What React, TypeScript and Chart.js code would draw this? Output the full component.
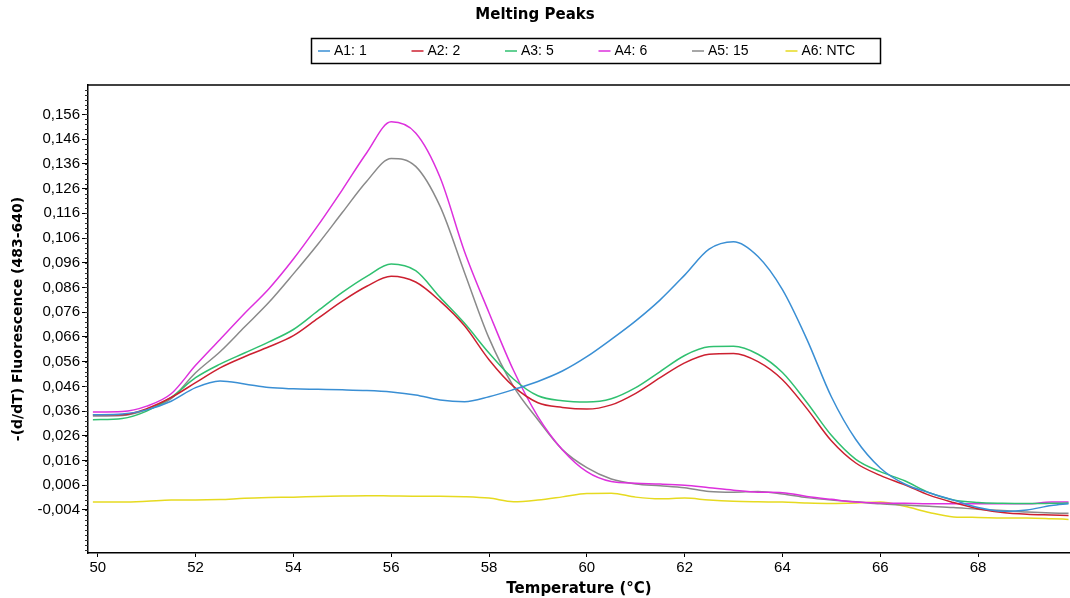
import React, { useEffect, useRef } from "react";
import { Chart, registerables } from "chart.js";

Chart.register(...registerables);

// Temperature sample points (°C)
const temps = [
  49.9, 50.5, 51, 51.5, 52, 52.5, 53, 53.5, 54, 54.5, 55, 55.5, 56, 56.5, 57, 57.5,
  58, 58.5, 59, 59.5, 60, 60.5, 61, 61.5, 62, 62.5, 63, 63.5, 64, 64.5, 65, 65.5,
  66, 66.5, 67, 67.5, 68, 68.5, 69, 69.5, 69.85,
];

const seriesLabels = ["A1: 1", "A2: 2", "A3: 5", "A4: 6", "A5: 15", "A6: NTC"];

const a1Values = [
  0.0345, 0.0348, 0.0365, 0.0400, 0.0455, 0.0482, 0.0470, 0.0455, 0.0450, 0.0448, 0.0446, 0.0443, 0.0437, 0.0425, 0.0405, 0.0398,
  0.0418, 0.0447, 0.0480, 0.0522, 0.0580, 0.0650, 0.0725, 0.0810, 0.0910, 0.1015, 0.1045, 0.0985, 0.0851, 0.0650, 0.0418, 0.0245,
  0.0130, 0.0065, 0.0030, 0.0000, -0.0030, -0.0045, -0.0040, -0.0022, -0.0015,
];
const a2Values = [
  0.0345, 0.0345, 0.0370, 0.0415, 0.0475, 0.0535, 0.0580, 0.0620, 0.0665, 0.0735, 0.0805, 0.0865, 0.0905, 0.0882, 0.0805, 0.0705,
  0.0568, 0.0460, 0.0394, 0.0375, 0.0368, 0.0385, 0.0432, 0.0495, 0.0555, 0.0590, 0.0593, 0.0560, 0.0487, 0.0370, 0.0240, 0.0150,
  0.0100, 0.0062, 0.0020, -0.0010, -0.0035, -0.0050, -0.0057, -0.0060, -0.0062,
];
const a3Values = [
  0.0325, 0.0330, 0.0360, 0.0415, 0.0495, 0.0550, 0.0595, 0.0640, 0.0690, 0.0765, 0.0840, 0.0905, 0.0955, 0.0928, 0.0820, 0.0715,
  0.0595, 0.0490, 0.0422, 0.0402, 0.0397, 0.0410, 0.0455, 0.0520, 0.0585, 0.0620, 0.0622, 0.0590, 0.0516, 0.0395, 0.0262, 0.0165,
  0.0115, 0.0078, 0.0030, 0.0000, -0.0010, -0.0013, -0.0014, -0.0013, -0.0012,
];
const a4Values = [
  0.0356, 0.0358, 0.0380, 0.0430, 0.0545, 0.0650, 0.0755, 0.0855, 0.0975, 0.1110, 0.1255, 0.1405, 0.1530, 0.1485, 0.1305, 0.1005,
  0.0758, 0.0525, 0.0338, 0.0204, 0.0115, 0.0075, 0.0068, 0.0065, 0.0060, 0.0050, 0.0040, 0.0032, 0.0030, 0.0015, 0.0003, -0.0008,
  -0.0012, -0.0013, -0.0015, -0.0015, -0.0015, -0.0015, -0.0015, -0.0008, -0.0008,
];
const a5Values = [
  0.0340, 0.0342, 0.0365, 0.0410, 0.0515, 0.0600, 0.0700, 0.0800, 0.0915, 0.1035, 0.1163, 0.1290, 0.1382, 0.1350, 0.1188, 0.0920,
  0.0655, 0.0460, 0.0325, 0.0204, 0.0131, 0.0085, 0.0065, 0.0058, 0.0050, 0.0035, 0.0032, 0.0035, 0.0025, 0.0010, 0.0000, -0.0007,
  -0.0015, -0.0020, -0.0025, -0.0030, -0.0037, -0.0042, -0.0048, -0.0052, -0.0053,
];
const a6Values = [
  -0.0008, -0.0008, -0.0005, 0.0000, 0.0000, 0.0002, 0.0007, 0.0010, 0.0012, 0.0015, 0.0017, 0.0018, 0.0017, 0.0016, 0.0016, 0.0014,
  0.0008, -0.0007, 0.0000, 0.0013, 0.0027, 0.0028, 0.0012, 0.0005, 0.0008, 0.0000, -0.0005, -0.0007, -0.0008, -0.0012, -0.0014, -0.0012,
  -0.0008, -0.0025, -0.0050, -0.0068, -0.0070, -0.0072, -0.0072, -0.0075, -0.0078,
];

const seriesValues = [a1Values, a2Values, a3Values, a4Values, a5Values, a6Values];
const seriesColors = ["#3a8fd4", "#cc2030", "#30c070", "#dd30dd", "#8a8a8a", "#e6da20"];

const yTickValues = [
  -0.004, 0.006, 0.016, 0.026, 0.036, 0.046, 0.056, 0.066, 0.076, 0.086, 0.096, 0.106, 0.116, 0.126, 0.136, 0.146, 0.156,
];
const xTickValues = [50, 52, 54, 56, 58, 60, 62, 64, 66, 68];

const fmtY = (v: number) => v.toFixed(3).replace(".", ",");

const framePlugin = {
  id: "frameAndMinorTicks",
  afterDraw(chart: any) {
    const { ctx, chartArea } = chart;
    const y = chart.scales.y;
    ctx.save();
    ctx.strokeStyle = "#000";
    ctx.lineWidth = 1.5;
    ctx.beginPath();
    ctx.moveTo(chartArea.left, chartArea.top);
    ctx.lineTo(chartArea.right, chartArea.top);
    ctx.stroke();
    ctx.lineWidth = 1;
    ctx.strokeStyle = "#333";
    for (let k = -10; k <= 83; k++) {
      const py = Math.round(y.getPixelForValue(k * 0.002)) + 0.5;
      if (py < chartArea.top || py > chartArea.bottom) continue;
      ctx.beginPath();
      ctx.moveTo(chartArea.left - 3, py);
      ctx.lineTo(chartArea.left, py);
      ctx.stroke();
    }
    ctx.restore();
  },
};

const legendBoxPlugin = {
  id: "legendBox",
  afterDraw(chart: any) {
    const ctx = chart.ctx;
    ctx.save();
    ctx.strokeStyle = "#000";
    ctx.lineWidth = 1.5;
    ctx.strokeRect(311.5, 38.5, 569, 25);
    ctx.font = "14px 'Liberation Sans', Arial, sans-serif";
    ctx.textBaseline = "middle";
    ctx.textAlign = "left";
    chart.data.datasets.forEach((ds: any, i: number) => {
      const x0 = 318 + i * 93.5;
      ctx.strokeStyle = ds.borderColor;
      ctx.lineWidth = 1.5;
      ctx.beginPath();
      ctx.moveTo(x0, 51);
      ctx.lineTo(x0 + 12, 51);
      ctx.stroke();
      ctx.fillStyle = "#000";
      ctx.fillText(ds.label, x0 + 16, 51);
    });
    ctx.restore();
  },
};

export default function App() {
  const ref = useRef<HTMLCanvasElement>(null);

  useEffect(() => {
    document.body.style.margin = "0";
    const canvas = ref.current;
    if (!canvas) return;
    const chart = new Chart(canvas, {
      type: "line",
      data: {
        datasets: seriesValues.map((vals, i) => ({
          label: seriesLabels[i],
          data: temps.map((t, j) => ({ x: t, y: vals[j] })),
          borderColor: seriesColors[i],
          backgroundColor: seriesColors[i],
          borderWidth: 1.5,
          pointRadius: 0,
          cubicInterpolationMode: "monotone" as const,
          fill: false,
        })),
      },
      options: {
        animation: false,
        responsive: false,
        layout: { padding: 0 },
        plugins: {
          title: {
            display: true,
            text: "Melting Peaks",
            color: "#000",
            font: { family: "'DejaVu Sans'", size: 15, weight: "bold" },
            padding: { top: 6, bottom: 61 },
          },
          legend: { display: false },
          tooltip: { enabled: false },
        },
        scales: {
          x: {
            type: "linear",
            min: 49.8,
            max: 69.88,
            afterBuildTicks: (s: any) => {
              s.ticks = xTickValues.map((v) => ({ value: v }));
            },
            afterFit: (s: any) => {
              s.height = 45;
            },
            ticks: {
              autoSkip: false,
              maxRotation: 0,
              padding: 2,
              color: "#000",
              font: { family: "'Liberation Sans'", size: 15 },
              callback: (v: any) => String(v),
            },
            grid: { drawOnChartArea: false, drawTicks: true, tickLength: 4, tickColor: "#000" },
            border: { display: true, color: "#000", width: 1.5 },
            title: {
              display: true,
              text: "Temperature (°C)",
              color: "#000",
              font: { family: "'DejaVu Sans'", size: 15, weight: "bold" },
              padding: { top: 0, bottom: 0 },
            },
          },
          y: {
            type: "linear",
            min: -0.0214,
            max: 0.1679,
            afterBuildTicks: (s: any) => {
              s.ticks = yTickValues.map((v) => ({ value: v }));
            },
            afterFit: (s: any) => {
              s.width = 88;
            },
            ticks: {
              autoSkip: false,
              padding: 2,
              color: "#000",
              font: { family: "'Liberation Sans'", size: 15 },
              callback: (v: any) => fmtY(Number(v)),
            },
            grid: { drawOnChartArea: false, drawTicks: true, tickLength: 6, tickColor: "#000" },
            border: { display: true, color: "#000", width: 1.5 },
            title: {
              display: true,
              text: "-(d/dT) Fluorescence (483-640)",
              color: "#000",
              font: { family: "'DejaVu Sans'", size: 14, weight: "bold" },
              padding: { top: 10, bottom: 0 },
            },
          },
        },
      },
      plugins: [framePlugin, legendBoxPlugin],
    });
    return () => chart.destroy();
  }, []);

  return (
    <div style={{ width: 1070, height: 598 }}>
      <canvas ref={ref} width={1070} height={598} style={{ display: "block" }} />
    </div>
  );
}
